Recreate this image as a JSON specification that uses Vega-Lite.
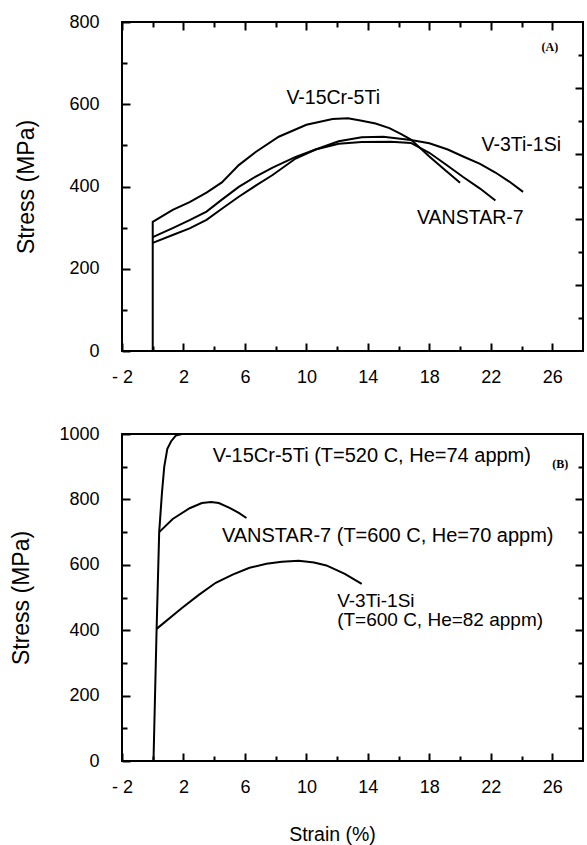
{
  "$schema": "https://vega.github.io/schema/vega-lite/v6.json",
  "padding": {"left": 9, "top": 12, "right": 2, "bottom": 2},
  "spacing": 34,
  "config": {
    "font": "Liberation Sans",
    "view": {"stroke": "black", "strokeWidth": 2},
    "axis": {"domain": false, "grid": false, "tickColor": "black", "tickWidth": 2, "labelFont": "Liberation Sans", "labelFontSize": 18, "labelColor": "black", "titleFont": "Liberation Sans", "titleColor": "black", "titleFontWeight": "normal", "titleFontSize": 23, "labelFlush": false, "labelOverlap": false, "labelBound": false}
  },
  "datasets": {
    "curvesA": [
      {"alloy": "V-15Cr-5Ti", "seq": 0, "strain": 0, "stress": 0},
      {"alloy": "V-15Cr-5Ti", "seq": 1, "strain": 0, "stress": 314},
      {"alloy": "V-15Cr-5Ti", "seq": 2, "strain": 1.3, "stress": 343},
      {"alloy": "V-15Cr-5Ti", "seq": 3, "strain": 2.4, "stress": 362},
      {"alloy": "V-15Cr-5Ti", "seq": 4, "strain": 3.5, "stress": 385},
      {"alloy": "V-15Cr-5Ti", "seq": 5, "strain": 4.5, "stress": 410},
      {"alloy": "V-15Cr-5Ti", "seq": 6, "strain": 5.6, "stress": 452},
      {"alloy": "V-15Cr-5Ti", "seq": 7, "strain": 6.7, "stress": 484},
      {"alloy": "V-15Cr-5Ti", "seq": 8, "strain": 8.2, "stress": 521},
      {"alloy": "V-15Cr-5Ti", "seq": 9, "strain": 10.0, "stress": 550},
      {"alloy": "V-15Cr-5Ti", "seq": 10, "strain": 11.7, "stress": 564},
      {"alloy": "V-15Cr-5Ti", "seq": 11, "strain": 12.7, "stress": 566},
      {"alloy": "V-15Cr-5Ti", "seq": 12, "strain": 13.6, "stress": 560},
      {"alloy": "V-15Cr-5Ti", "seq": 13, "strain": 14.5, "stress": 553},
      {"alloy": "V-15Cr-5Ti", "seq": 14, "strain": 15.4, "stress": 542},
      {"alloy": "V-15Cr-5Ti", "seq": 15, "strain": 16.2, "stress": 527},
      {"alloy": "V-15Cr-5Ti", "seq": 16, "strain": 16.8, "stress": 514},
      {"alloy": "V-15Cr-5Ti", "seq": 17, "strain": 18.0, "stress": 473},
      {"alloy": "V-15Cr-5Ti", "seq": 18, "strain": 19.0, "stress": 441},
      {"alloy": "V-15Cr-5Ti", "seq": 19, "strain": 20.0, "stress": 409},
      {"alloy": "VANSTAR-7", "seq": 0, "strain": 0, "stress": 277},
      {"alloy": "VANSTAR-7", "seq": 1, "strain": 1.3, "stress": 299},
      {"alloy": "VANSTAR-7", "seq": 2, "strain": 2.4, "stress": 318},
      {"alloy": "VANSTAR-7", "seq": 3, "strain": 3.5, "stress": 339},
      {"alloy": "VANSTAR-7", "seq": 4, "strain": 4.5, "stress": 368},
      {"alloy": "VANSTAR-7", "seq": 5, "strain": 5.6, "stress": 399},
      {"alloy": "VANSTAR-7", "seq": 6, "strain": 6.7, "stress": 424},
      {"alloy": "VANSTAR-7", "seq": 7, "strain": 7.8, "stress": 446},
      {"alloy": "VANSTAR-7", "seq": 8, "strain": 9.3, "stress": 472},
      {"alloy": "VANSTAR-7", "seq": 9, "strain": 10.6, "stress": 490},
      {"alloy": "VANSTAR-7", "seq": 10, "strain": 12.1, "stress": 504},
      {"alloy": "VANSTAR-7", "seq": 11, "strain": 13.6, "stress": 508},
      {"alloy": "VANSTAR-7", "seq": 12, "strain": 15.5, "stress": 509},
      {"alloy": "VANSTAR-7", "seq": 13, "strain": 16.8, "stress": 506},
      {"alloy": "VANSTAR-7", "seq": 14, "strain": 18.0, "stress": 482},
      {"alloy": "VANSTAR-7", "seq": 15, "strain": 19.1, "stress": 453},
      {"alloy": "VANSTAR-7", "seq": 16, "strain": 20.2, "stress": 423},
      {"alloy": "VANSTAR-7", "seq": 17, "strain": 21.3, "stress": 395},
      {"alloy": "VANSTAR-7", "seq": 18, "strain": 22.3, "stress": 366},
      {"alloy": "V-3Ti-1Si", "seq": 0, "strain": 0, "stress": 263},
      {"alloy": "V-3Ti-1Si", "seq": 1, "strain": 1.3, "stress": 282},
      {"alloy": "V-3Ti-1Si", "seq": 2, "strain": 2.4, "stress": 298},
      {"alloy": "V-3Ti-1Si", "seq": 3, "strain": 3.5, "stress": 319},
      {"alloy": "V-3Ti-1Si", "seq": 4, "strain": 4.5, "stress": 346},
      {"alloy": "V-3Ti-1Si", "seq": 5, "strain": 5.6, "stress": 375},
      {"alloy": "V-3Ti-1Si", "seq": 6, "strain": 6.7, "stress": 402},
      {"alloy": "V-3Ti-1Si", "seq": 7, "strain": 7.8, "stress": 428},
      {"alloy": "V-3Ti-1Si", "seq": 8, "strain": 9.3, "stress": 468},
      {"alloy": "V-3Ti-1Si", "seq": 9, "strain": 10.6, "stress": 490},
      {"alloy": "V-3Ti-1Si", "seq": 10, "strain": 12.1, "stress": 510},
      {"alloy": "V-3Ti-1Si", "seq": 11, "strain": 13.6, "stress": 520},
      {"alloy": "V-3Ti-1Si", "seq": 12, "strain": 15.0, "stress": 521},
      {"alloy": "V-3Ti-1Si", "seq": 13, "strain": 16.8, "stress": 513},
      {"alloy": "V-3Ti-1Si", "seq": 14, "strain": 18.0, "stress": 505},
      {"alloy": "V-3Ti-1Si", "seq": 15, "strain": 19.2, "stress": 490},
      {"alloy": "V-3Ti-1Si", "seq": 16, "strain": 20.2, "stress": 473},
      {"alloy": "V-3Ti-1Si", "seq": 17, "strain": 21.3, "stress": 455},
      {"alloy": "V-3Ti-1Si", "seq": 18, "strain": 22.3, "stress": 434},
      {"alloy": "V-3Ti-1Si", "seq": 19, "strain": 23.2, "stress": 412},
      {"alloy": "V-3Ti-1Si", "seq": 20, "strain": 24.1, "stress": 387}
    ],
    "curvesB": [
      {"alloy": "V-15Cr-5Ti", "seq": 0, "strain": 0.05, "stress": 0},
      {"alloy": "V-15Cr-5Ti", "seq": 1, "strain": 0.15, "stress": 200},
      {"alloy": "V-15Cr-5Ti", "seq": 2, "strain": 0.25, "stress": 400},
      {"alloy": "V-15Cr-5Ti", "seq": 3, "strain": 0.42, "stress": 700},
      {"alloy": "V-15Cr-5Ti", "seq": 4, "strain": 0.6, "stress": 820},
      {"alloy": "V-15Cr-5Ti", "seq": 5, "strain": 0.75, "stress": 900},
      {"alloy": "V-15Cr-5Ti", "seq": 6, "strain": 0.95, "stress": 955},
      {"alloy": "V-15Cr-5Ti", "seq": 7, "strain": 1.2, "stress": 978},
      {"alloy": "V-15Cr-5Ti", "seq": 8, "strain": 1.5, "stress": 995},
      {"alloy": "V-15Cr-5Ti", "seq": 9, "strain": 1.9, "stress": 1000},
      {"alloy": "V-15Cr-5Ti", "seq": 10, "strain": 2.6, "stress": 1000},
      {"alloy": "VANSTAR-7", "seq": 0, "strain": 0.42, "stress": 700},
      {"alloy": "VANSTAR-7", "seq": 1, "strain": 1.3, "stress": 740},
      {"alloy": "VANSTAR-7", "seq": 2, "strain": 2.4, "stress": 773},
      {"alloy": "VANSTAR-7", "seq": 3, "strain": 3.2, "stress": 789},
      {"alloy": "VANSTAR-7", "seq": 4, "strain": 3.8, "stress": 792},
      {"alloy": "VANSTAR-7", "seq": 5, "strain": 4.3, "stress": 789},
      {"alloy": "VANSTAR-7", "seq": 6, "strain": 5.0, "stress": 774},
      {"alloy": "VANSTAR-7", "seq": 7, "strain": 5.6, "stress": 759},
      {"alloy": "VANSTAR-7", "seq": 8, "strain": 6.1, "stress": 743},
      {"alloy": "V-3Ti-1Si", "seq": 0, "strain": 0.25, "stress": 404},
      {"alloy": "V-3Ti-1Si", "seq": 1, "strain": 1.9, "stress": 468},
      {"alloy": "V-3Ti-1Si", "seq": 2, "strain": 3.0, "stress": 508},
      {"alloy": "V-3Ti-1Si", "seq": 3, "strain": 4.1, "stress": 545},
      {"alloy": "V-3Ti-1Si", "seq": 4, "strain": 5.2, "stress": 570},
      {"alloy": "V-3Ti-1Si", "seq": 5, "strain": 6.3, "stress": 591},
      {"alloy": "V-3Ti-1Si", "seq": 6, "strain": 7.4, "stress": 603},
      {"alloy": "V-3Ti-1Si", "seq": 7, "strain": 8.4, "stress": 609},
      {"alloy": "V-3Ti-1Si", "seq": 8, "strain": 9.5, "stress": 612},
      {"alloy": "V-3Ti-1Si", "seq": 9, "strain": 10.5, "stress": 607},
      {"alloy": "V-3Ti-1Si", "seq": 10, "strain": 11.3, "stress": 598},
      {"alloy": "V-3Ti-1Si", "seq": 11, "strain": 12.5, "stress": 572},
      {"alloy": "V-3Ti-1Si", "seq": 12, "strain": 13.6, "stress": 542}
    ],
    "labelsA": [
      {"label": "V-15Cr-5Ti", "strain": 8.7, "stress": 616},
      {"label": "V-3Ti-1Si", "strain": 21.4, "stress": 501},
      {"label": "VANSTAR-7", "strain": 17.2, "stress": 324}
    ],
    "labelsB": [
      {"label": "V-15Cr-5Ti (T=520 C, He=74 appm)", "strain": 3.9, "stress": 933},
      {"label": "VANSTAR-7 (T=600 C, He=70 appm)", "strain": 4.5, "stress": 688}
    ],
    "labelsB2": [
      {"label": "V-3Ti-1Si\n(T=600 C, He=82 appm)", "strain": 12.0, "stress": 489}
    ],
    "panelA": [{"label": "(A)", "strain": 25.3, "stress": 740}],
    "panelB": [{"label": "(B)", "strain": 26.0, "stress": 908}]
  },
  "vconcat": [
    {
      "width": 461,
      "height": 329,
      "layer": [
        {
          "data": {"name": "curvesA"},
          "mark": {"type": "line", "color": "black", "strokeWidth": 2},
          "encoding": {
            "x": {"field": "strain", "type": "quantitative", "scale": {"domain": [-2, 28], "nice": false, "zero": false},
              "axis": {"orient": "bottom", "values": [-2, 0, 2, 4, 6, 8, 10, 12, 14, 16, 18, 20, 22, 24, 26], "labelExpr": "(datum.value+2)%4==0 ? (datum.value<0 ? '- 2' : datum.label) : ''", "tickSize": {"condition": {"test": "(datum.value+2)%4==0", "value": -8}, "value": -5}, "labelPadding": 25, "title": null}},
            "y": {"field": "stress", "type": "quantitative", "scale": {"domain": [0, 800], "nice": false},
              "axis": {"orient": "left", "format": "d", "values": [0, 100, 200, 300, 400, 500, 600, 700, 800], "labelExpr": "datum.value%200==0 ? datum.label : ''", "tickSize": {"condition": {"test": "datum.value%200==0", "value": -8}, "value": -5}, "labelPadding": 31, "title": "Stress  (MPa)", "titlePadding": 30}},
            "detail": {"field": "alloy"},
            "order": {"field": "seq"}
          }
        },
        {
          "data": {"name": "labelsA"},
          "mark": {"type": "text", "align": "left", "baseline": "middle", "fontSize": 19.5, "font": "Liberation Sans", "color": "black"},
          "encoding": {
            "x": {"field": "strain", "type": "quantitative",
              "axis": {"orient": "top", "values": [-2, 0, 2, 4, 6, 8, 10, 12, 14, 16, 18, 20, 22, 24, 26], "labels": false, "tickSize": {"condition": {"test": "(datum.value+2)%4==0", "value": -8}, "value": -5}, "title": null}},
            "y": {"field": "stress", "type": "quantitative",
              "axis": {"orient": "right", "values": [80, 160, 240, 320, 400, 480, 560, 640, 720], "labels": false, "tickSize": {"condition": {"test": "datum.value%160==0", "value": -8}, "value": -5}, "title": null}},
            "text": {"field": "label"}
          }
        },
        {
          "data": {"name": "panelA"},
          "mark": {"type": "text", "align": "left", "baseline": "middle", "fontSize": 12, "font": "Liberation Serif", "fontWeight": "bold", "color": "black"},
          "encoding": {
            "x": {"field": "strain", "type": "quantitative", "axis": null},
            "y": {"field": "stress", "type": "quantitative", "axis": null},
            "text": {"field": "label"}
          }
        }
      ]
    },
    {
      "width": 461,
      "height": 327,
      "layer": [
        {
          "data": {"name": "curvesB"},
          "mark": {"type": "line", "color": "black", "strokeWidth": 2},
          "encoding": {
            "x": {"field": "strain", "type": "quantitative", "scale": {"domain": [-2, 28], "nice": false, "zero": false},
              "axis": {"orient": "bottom", "values": [-2, 0, 2, 4, 6, 8, 10, 12, 14, 16, 18, 20, 22, 24, 26], "labelExpr": "(datum.value+2)%4==0 ? (datum.value<0 ? '- 2' : datum.label) : ''", "tickSize": {"condition": {"test": "(datum.value+2)%4==0", "value": -8}, "value": -5}, "labelPadding": 25, "title": "Strain (%)", "titleFontSize": 19.5, "titleX": 210, "titleY": 73, "titleAlign": "center", "titleBaseline": "middle"}},
            "y": {"field": "stress", "type": "quantitative", "scale": {"domain": [0, 1000], "nice": false},
              "axis": {"orient": "left", "format": "d", "values": [0, 100, 200, 300, 400, 500, 600, 700, 800, 900, 1000], "labelExpr": "datum.value%200==0 ? datum.label : ''", "tickSize": {"condition": {"test": "datum.value%200==0", "value": -8}, "value": -5}, "labelPadding": 31, "title": "Stress  (MPa)", "titlePadding": 25}},
            "detail": {"field": "alloy"},
            "order": {"field": "seq"}
          }
        },
        {
          "data": {"name": "labelsB"},
          "mark": {"type": "text", "align": "left", "baseline": "middle", "fontSize": 20, "font": "Liberation Sans", "color": "black"},
          "encoding": {
            "x": {"field": "strain", "type": "quantitative",
              "axis": {"orient": "top", "values": [0], "ticks": false, "labels": false, "title": null}},
            "y": {"field": "stress", "type": "quantitative",
              "axis": {"orient": "right", "values": [100, 200, 300, 400, 500, 600, 700, 800, 900], "labels": false, "tickSize": {"condition": {"test": "datum.value%200==0", "value": -8}, "value": -5}, "title": null}},
            "text": {"field": "label"}
          }
        },
        {
          "data": {"name": "labelsB2"},
          "mark": {"type": "text", "align": "left", "baseline": "middle", "fontSize": 19, "lineBreak": "\n", "lineHeight": 19, "font": "Liberation Sans", "color": "black"},
          "encoding": {
            "x": {"field": "strain", "type": "quantitative", "axis": null},
            "y": {"field": "stress", "type": "quantitative", "axis": null},
            "text": {"field": "label"}
          }
        },
        {
          "data": {"name": "panelB"},
          "mark": {"type": "text", "align": "left", "baseline": "middle", "fontSize": 12, "font": "Liberation Serif", "fontWeight": "bold", "color": "black"},
          "encoding": {
            "x": {"field": "strain", "type": "quantitative", "axis": null},
            "y": {"field": "stress", "type": "quantitative", "axis": null},
            "text": {"field": "label"}
          }
        }
      ]
    }
  ]
}
